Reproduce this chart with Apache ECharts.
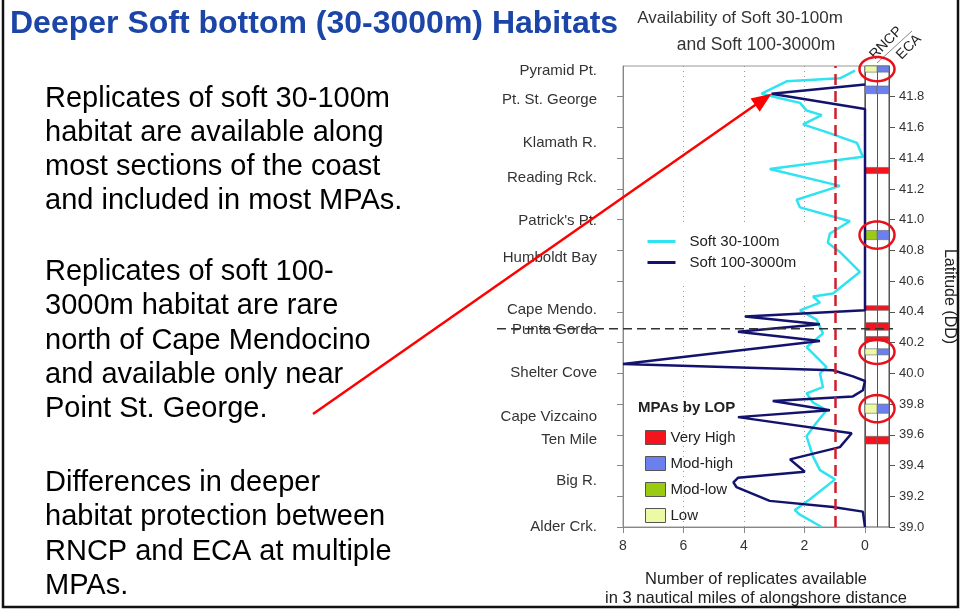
<!DOCTYPE html>
<html>
<head>
<meta charset="utf-8">
<title>Deeper Soft bottom Habitats</title>
<script src="https://cdn.jsdelivr.net/npm/echarts@6.0.0/dist/echarts.min.js"></script>
<style>
    html, body { margin: 0; padding: 0; background: #fff; }
    #main { width: 965px; height: 613px; }
</style>
</head>
<body>
<div id="main"></div>
<script>
// places along the coast, left axis
var placeNames = ['Pyramid Pt.', 'Pt. St. George', 'Klamath R.', 'Reading Rck.', "Patrick's Pt.", 'Humboldt Bay',
    'Cape Mendo.', 'Punta Gorda', 'Shelter Cove', 'Cape Vizcaino', 'Ten Mile', 'Big R.', 'Alder Crk.'];
var placeLats = [41.97, 41.78, 41.50, 41.27, 40.99, 40.75, 40.41, 40.28, 40.00, 39.72, 39.57, 39.30, 39.00];

// latitude ticks
var latTicks = [39.0, 39.2, 39.4, 39.6, 39.8, 40.0, 40.2, 40.4, 40.6, 40.8, 41.0, 41.2, 41.4, 41.6, 41.8];

// Soft 30-100m
var shallowLat = [41.97, 41.92, 41.90, 41.82, 41.79, 41.76, 41.71, 41.68, 41.62, 41.57, 41.50, 41.41, 41.33, 41.22,
    41.13, 41.08, 40.99, 40.91, 40.85, 40.79, 40.66, 40.52, 40.50, 40.46, 40.41, 40.35, 40.26, 40.17, 40.04, 40.00,
    39.91, 39.87, 39.81, 39.76, 39.68, 39.59, 39.46, 39.37, 39.31, 39.18, 39.11, 39.08, 39.00];
var shallowCount = [0.33, 0.83, 2.59, 3.42, 2.81, 2.15, 1.93, 1.43, 2.05, 1.27, 0.27, 0.07, 3.15, 0.83,
    2.26, 2.15, 0.50, 1.16, 1.23, 0.83, 0.17, 1.06, 1.72, 1.49, 2.15, 1.60, 1.39, 1.93, 1.27, 1.49,
    1.39, 1.93, 1.72, 1.27, 1.60, 1.93, 1.72, 1.49, 0.99, 1.82, 2.32, 2.15, 1.43];

// Soft 100-3000m
var deepLat = [41.88, 41.82, 41.72, 40.41, 40.37, 40.32, 40.27, 40.21, 40.06, 40.02, 39.98, 39.95, 39.89, 39.85,
    39.82, 39.76, 39.715, 39.61, 39.52, 39.44, 39.36, 39.32, 39.29, 39.26, 39.17, 39.13, 39.10, 39.00];
var deepCount = [0, 3.09, 0, 0, 3.97, 1.49, 4.20, 1.49, 8.0, 1.06, 0.40, 0, 0.07, 0.40,
    3.05, 1.16, 4.20, 0.44, 0.83, 2.48, 1.99, 4.20, 4.35, 4.25, 3.15, 1.06, 0.07, 0];

var thresholdCount = 1;   // red dashed line
var boundaryLat = 40.29;  // Cape Mendocino boundary

// MPAs (RNCP / ECA)
var mpaTop = [42.0, 41.87, 41.34, 40.93, 40.44, 40.33, 40.24, 40.16, 39.80, 39.59];
var mpaBottom = [41.96, 41.82, 41.30, 40.87, 40.41, 40.28, 40.21, 40.12, 39.74, 39.54];
var rncpLevel = ['Low', 'Mod-high', 'Very High', 'Mod-low', 'Very High', 'Very High', 'Very High', 'Low', 'Low', 'Very High'];
var ecaLevel = ['Mod-high', 'Mod-high', 'Very High', 'Mod-high', 'Very High', 'Very High', 'Very High', 'Mod-high', 'Mod-high', 'Very High'];
var circledMpa = [0, 3, 7, 8];

var levelNames = ['Very High', 'Mod-high', 'Mod-low', 'Low'];
var levelColors = ['#f5141e', '#6b80ee', '#9acb12', '#ecfaa6'];

var font = '"Liberation Sans", Arial, sans-serif';

function pairs(xs, ys) {
    var out = [];
    for (var i = 0; i < xs.length; i++) {
        out.push([xs[i], ys[i]]);
    }
    return out;
}

function mpaCells(level) {
    var out = [];
    for (var i = 0; i < mpaTop.length; i++) {
        if (rncpLevel[i] == level) out.push([0, mpaTop[i], mpaBottom[i]]);
        if (ecaLevel[i] == level) out.push([1, mpaTop[i], mpaBottom[i]]);
    }
    return out;
}

function renderCell(params, api) {
    var p1 = api.coord([api.value(0), api.value(1)]);
    var p2 = api.coord([api.value(0) + 1, api.value(2)]);
    return {
        type: 'rect',
        shape: {x: p1[0], y: p1[1], width: p2[0] - p1[0], height: p2[1] - p1[1]},
        style: {fill: api.visual('color'), stroke: '#666', lineWidth: 0.6}
    };
}

var chart = echarts.init(document.getElementById('main'));

var series = [
    {
        name: 'Soft 30-100m',
        type: 'line',
        xAxisIndex: 0, yAxisIndex: 0,
        symbol: 'none',
        color: '#2fe3f0',
        lineStyle: {width: 2.5, color: '#2fe3f0'},
        data: pairs(shallowCount, shallowLat),
        z: 2
    },
    {
        name: 'Soft 100-3000m',
        type: 'line',
        xAxisIndex: 0, yAxisIndex: 0,
        symbol: 'none',
        color: '#13136e',
        lineStyle: {width: 2.5, color: '#13136e'},
        data: pairs(deepCount, deepLat),
        z: 3,
        markLine: {
            silent: true,
            symbol: 'none',
            label: {show: false},
            lineStyle: {color: '#cf1f2e', type: [11, 6], width: 2.5},
            data: [{xAxis: thresholdCount}]
        }
    },
    {
        name: 'boundary',
        type: 'line',
        xAxisIndex: 2, yAxisIndex: 2,
        symbol: 'none',
        silent: true,
        lineStyle: {width: 1.3, color: '#333', type: [9, 5]},
        data: [[0, boundaryLat], [1, boundaryLat]],
        z: 4
    }
];

levelNames.forEach(function (lv, i) {
    series.push({
        name: lv,
        type: 'custom',
        xAxisIndex: 1, yAxisIndex: 1,
        color: levelColors[i],
        renderItem: renderCell,
        encode: {x: 0, y: [1, 2]},
        data: mpaCells(lv),
        z: 2
    });
});

var option = {
    animation: false,
    textStyle: {fontFamily: font},
    grid: [
        {left: 623, right: 100, top: 66, height: 461, show: true, borderColor: '#999', borderWidth: 1},
        {left: 865, width: 24, top: 66, height: 461, show: true, borderColor: '#555', borderWidth: 1},
        {left: 497, right: 72, top: 66, height: 461}
    ],
    xAxis: [
        {
            type: 'value', gridIndex: 0, min: 0, max: 8, interval: 2, inverse: true,
            axisLine: {show: true, onZero: false, lineStyle: {color: '#888'}},
            axisTick: {show: true, length: 6, lineStyle: {color: '#888'}},
            axisLabel: {fontSize: 14, color: '#333', margin: 12},
            splitLine: {show: true, lineStyle: {color: '#999', type: [1, 4], width: 1}},
            name: 'Number of replicates available\nin 3 nautical miles of alongshore distance',
            nameLocation: 'middle',
            nameGap: 43,
            nameTextStyle: {fontSize: 16.5, color: '#222', lineHeight: 19, padding: [0, 0, 0, 24]}
        },
        {
            type: 'value', gridIndex: 1, min: 0, max: 2, interval: 1,
            axisLine: {show: false, onZero: false}, axisTick: {show: false}, axisLabel: {show: false},
            splitLine: {show: true, lineStyle: {color: '#555', width: 1}}
        },
        {type: 'value', gridIndex: 2, min: 0, max: 1, show: false}
    ],
    yAxis: [
        {
            type: 'value', gridIndex: 0, min: 39, max: 42, position: 'left',
            axisLine: {show: true, onZero: false, lineStyle: {color: '#888'}},
            axisTick: {show: true, length: 6, customValues: latTicks, lineStyle: {color: '#888'}},
            axisLabel: {
                customValues: placeLats,
                fontSize: 15, color: '#333', margin: 26,
                formatter: function (v) {
                    var i = placeLats.indexOf(v);
                    return i >= 0 ? placeNames[i] : '';
                }
            },
            splitLine: {show: false}
        },
        {
            type: 'value', gridIndex: 1, min: 39, max: 42, position: 'right',
            axisLine: {show: true, onZero: false, lineStyle: {color: '#555'}},
            axisTick: {show: true, length: 6, customValues: latTicks, lineStyle: {color: '#555'}},
            axisLabel: {
                customValues: latTicks,
                fontSize: 13, color: '#333', margin: 10,
                formatter: function (v) { return v.toFixed(1); }
            },
            splitLine: {show: false},
            name: 'Latitude (DD)',
            nameLocation: 'middle',
            nameRotate: -90,
            nameGap: 52,
            nameTextStyle: {fontSize: 16, color: '#222'}
        },
        {type: 'value', gridIndex: 2, min: 39, max: 42, show: false}
    ],
    legend: [
        {
            data: [{name: 'Soft 30-100m', icon: 'inherit'}, {name: 'Soft 100-3000m', icon: 'inherit'}],
            orient: 'vertical',
            left: 630, top: 224,
            padding: [10, 10, 14, 16],
            itemWidth: 28, itemHeight: 14, itemGap: 6,
            itemStyle: {opacity: 0},
            lineStyle: {width: 3},
            backgroundColor: '#fff',
            textStyle: {fontSize: 15, color: '#222', padding: [0, 0, 0, 9]},
            selectedMode: false
        },
        {
            data: levelNames.map(function (n, i) {
                return {name: n, icon: 'rect', itemStyle: {color: levelColors[i], borderColor: '#555', borderWidth: 1}};
            }),
            orient: 'vertical',
            left: 645, top: 430,
            padding: 0,
            itemWidth: 20, itemHeight: 14, itemGap: 11,
            textStyle: {fontSize: 15, color: '#222'},
            selectedMode: false
        }
    ],
    series: series
};

chart.setOption(option);

// texts and annotations
var graphics = [
    {
        type: 'polyline', silent: true,
        shape: {points: [[3, 0], [3, 607], [958, 607], [958, 0]]},
        style: {stroke: '#111', lineWidth: 2.5, fill: null}
    },
    {
        type: 'text', x: 10, y: 24,
        style: {text: 'Deeper Soft bottom (30-3000m) Habitats', fontSize: 32, fontWeight: 'bold',
            fontFamily: font, fill: '#1c45a8', verticalAlign: 'middle'}
    },
    {
        type: 'text', x: 740, y: 18,
        style: {text: 'Availability of Soft 30-100m', fontSize: 17, fontFamily: font, fill: '#333',
            align: 'center', verticalAlign: 'middle'}
    },
    {
        type: 'text', x: 756, y: 45,
        style: {text: 'and Soft 100-3000m', fontSize: 17.5, fontFamily: font, fill: '#333',
            align: 'center', verticalAlign: 'middle'}
    },
    {
        type: 'text', x: 638, y: 408,
        style: {text: 'MPAs by LOP', fontSize: 15, fontWeight: 'bold', fontFamily: font, fill: '#222',
            verticalAlign: 'middle'}
    },
    {
        type: 'text', x: 886, y: 43, rotation: Math.PI / 4,
        style: {text: 'RNCP', fontSize: 14, fontFamily: font, fill: '#222', align: 'center', verticalAlign: 'middle'}
    },
    {
        type: 'text', x: 909, y: 47, rotation: Math.PI / 4,
        style: {text: 'ECA', fontSize: 14, fontFamily: font, fill: '#222', align: 'center', verticalAlign: 'middle'}
    },
    {
        type: 'line', silent: true,
        shape: {x1: 877, y1: 63, x2: 912, y2: 31},
        style: {stroke: '#888', lineWidth: 1}
    },
    {
        type: 'text', x: 45, y: 82,
        style: {text: 'Replicates of soft 30-100m\nhabitat are available along\nmost sections of the coast\nand included in most MPAs.',
            fontSize: 29, lineHeight: 34, fontFamily: font, fill: '#000', verticalAlign: 'top'}
    },
    {
        type: 'text', x: 45, y: 255,
        style: {text: 'Replicates of soft 100-\n3000m habitat are rare\nnorth of Cape Mendocino\nand available only near\nPoint St. George.',
            fontSize: 29, lineHeight: 34.2, fontFamily: font, fill: '#000', verticalAlign: 'top'}
    },
    {
        type: 'text', x: 45, y: 466,
        style: {text: 'Differences in deeper\nhabitat protection between\nRNCP and ECA at multiple\nMPAs.',
            fontSize: 29, lineHeight: 34.3, fontFamily: font, fill: '#000', verticalAlign: 'top'}
    }
];

// red rings round MPAs that differ between RNCP and ECA
circledMpa.forEach(function (i) {
    var c = chart.convertToPixel({gridIndex: 1}, [1, (mpaTop[i] + mpaBottom[i]) / 2]);
    var a = chart.convertToPixel({gridIndex: 1}, [1, mpaTop[i]]);
    var b = chart.convertToPixel({gridIndex: 1}, [1, mpaBottom[i]]);
    var rx = 17.5, ry = (b[1] - a[1]) / 2 + 9;
    var pts = [];
    for (var k = 0; k < 48; k++) {
        var t = k / 48 * Math.PI * 2;
        pts.push([c[0] + rx * Math.cos(t), c[1] + ry * Math.sin(t)]);
    }
    graphics.push({
        type: 'polygon', silent: true, z: 10,
        shape: {points: pts},
        style: {fill: null, stroke: '#e8101a', lineWidth: 2.5}
    });
});

// red arrow from the text to the Pt. St. George peak
var tip = chart.convertToPixel({gridIndex: 0}, [deepCount[1], deepLat[1]]);
var start = [313, 414];
var dx = tip[0] - start[0], dy = tip[1] - start[1];
var len = Math.sqrt(dx * dx + dy * dy);
var ux = dx / len, uy = dy / len;
var headL = 20, headW = 8;
var base = [tip[0] - ux * headL, tip[1] - uy * headL];
graphics.push({
    type: 'line', silent: true, z: 10,
    shape: {x1: start[0], y1: start[1], x2: base[0] + ux * 4, y2: base[1] + uy * 4},
    style: {stroke: '#ff0000', lineWidth: 2.5}
});
graphics.push({
    type: 'polygon', silent: true, z: 10,
    shape: {points: [tip, [base[0] - uy * headW, base[1] + ux * headW], [base[0] + uy * headW, base[1] - ux * headW]]},
    style: {fill: '#ff0000'}
});

chart.setOption({graphic: graphics});
</script>
</body>
</html>
